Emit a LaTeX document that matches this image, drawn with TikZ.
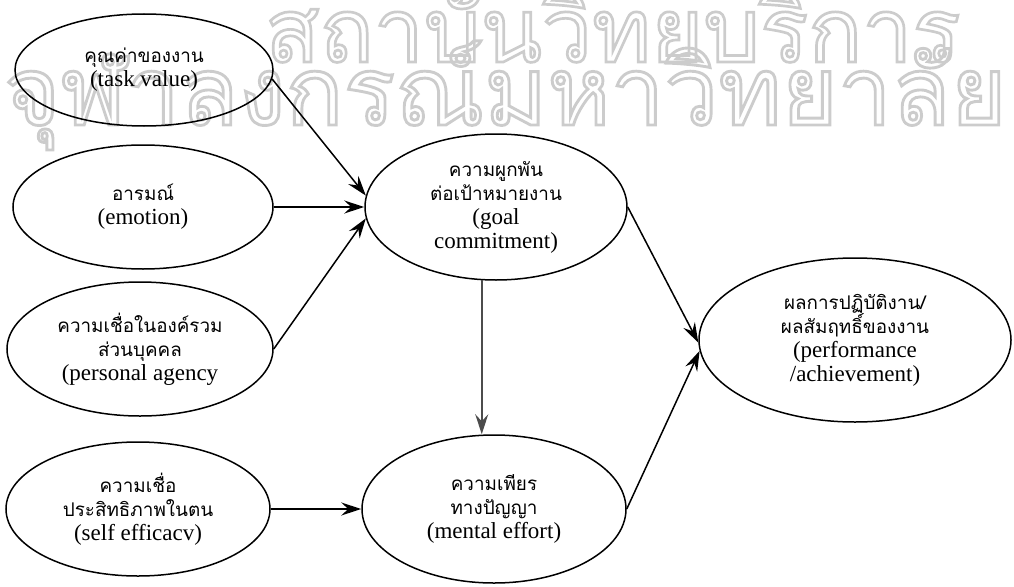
\documentclass[tikz,border=0pt]{standalone}
\usepackage{fontspec}
\setmainfont{Liberation Serif}
\newfontfamily\thai[Script=Thai,Scale=0.82]{Loma}
\newfontfamily\stampfont[Script=Thai]{Loma}
\usetikzlibrary{shapes.geometric,arrows.meta}

% hollow (stroked, unfilled) glyphs for the background stamp
\newcommand{\hollow}[1]{\special{pdf:literal direct 1 Tr 0.3 w 0.8 G}#1\special{pdf:literal direct 0 Tr 0 G}}

\begin{document}
\begin{tikzpicture}[x=1pt,y=-1pt,
  oval/.style={ellipse,draw,line width=1.5pt,inner sep=0pt,align=center,
    font=\fontsize{23}{24}\selectfont},
  link/.style={line width=1.5pt,-{Stealth[length=20pt,width=13pt,inset=7pt]}},
  stamp/.style={text=black!15,inner sep=0pt}]
\useasboundingbox (0,0) rectangle (1014,586);

% faint library stamp behind the diagram
\node[stamp,anchor=base west] (stampa) at (265,62)
  {\resizebox{695pt}{!}{\stampfont\hollow{สถาบันวิทยบริการ}}};
\node[stamp,anchor=base west] (stampb) at (4,125)
  {\resizebox{1002pt}{!}{\stampfont\hollow{จุฬาลงกรณ์มหาวิทยาลัย}}};

% antecedents
\node[oval,minimum width=258pt,minimum height=112pt] (tv) at (144,70)
  {{\thai คุณค่าของงาน}\\(task value)};
\node[oval,minimum width=260pt,minimum height=124pt] (em) at (143,207)
  {{\thai อารมณ์}\\(emotion)};
\node[oval,minimum width=266pt,minimum height=134pt] (pa) at (140,349)
  {{\thai ความเชื่อในองค์รวม}\\{\thai ส่วนบุคคล}\\(personal agency};
\node[oval,minimum width=264pt,minimum height=134pt] (se) at (138,509)
  {{\thai ความเชื่อ}\\{\thai ประสิทธิภาพในตน}\\(self efficacv)};

% mediators
\node[oval,minimum width=262pt,minimum height=146pt] (goal) at (496,207)
  {{\thai ความผูกพัน}\\{\thai ต่อเป้าหมายงาน}\\(goal\\commitment)};
\node[oval,minimum width=264pt,minimum height=148pt] (me) at (494,509)
  {{\thai ความเพียร}\\{\thai ทางปัญญา}\\(mental effort)};

% outcome
\node[oval,minimum width=312pt,minimum height=164pt] (perf) at (855,340)
  {{\thai ผลการปฏิบัติงาน/}\\{\thai ผลสัมฤทธิ์ของงาน}\\(performance\\/achievement)};

% paths
\draw[link] (tv.-4) -- (goal.175);
\draw[link] (em.east) -- (goal.west);
\draw[link] (pa.east) -- (goal.185);
\draw[link,draw=black!70] (goal.259) -- (goal.259 |- me.north);
\draw[link] (se.east) -- (me.west);
\draw[link] (goal.east) -- (perf.181);
\draw[link] (me.east) -- (perf.184);
\end{tikzpicture}
\end{document}
